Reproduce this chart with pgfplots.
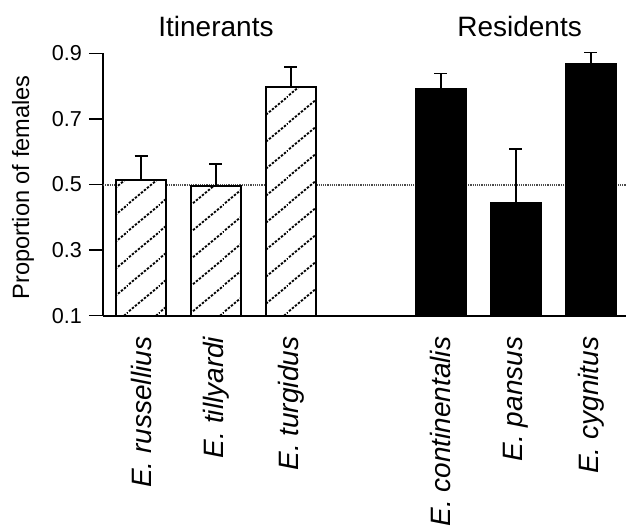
\documentclass[border=0pt]{standalone}
\usepackage{pgfplots}
\pgfplotsset{compat=1.18}
\usepackage{fontspec}
\setmainfont{Liberation Sans}
\usetikzlibrary{patterns.meta}
\tikzdeclarepattern{
  name=hatch,
  type=uncolored,
  bounding box={(0pt,0pt) and (16.1pt,13.5pt)},
  tile size={(16.1pt,13.5pt)},
  code={
    \draw[line width=0.95pt, dash pattern=on 1.2pt off 0.8pt] (-1pt,-0.84pt) -- (17.1pt,14.34pt);
  }
}
\pgfplotstableread{
x y e
0 0.514 0.072
1 0.495 0.067
2 0.798 0.061
}\itin
\pgfplotstableread{
x y e
4 0.793 0.045
5 0.443 0.166
6 0.869 0.033
}\resid
\begin{document}
\begin{tikzpicture}
\begin{axis}[
  scale only axis, width=261.5pt, height=131.2pt,
  xmin=-0.507, xmax=6.47, ymin=0.1, ymax=0.9,
  axis x line*=bottom, axis y line*=left,
  axis line style={line width=0.9pt, -},
  xtick={0,1,2,4,5,6},
  xticklabels={E. russellius, E. tillyardi, E. turgidus, E. continentalis, E. pansus, E. cygnitus},
  x tick style={draw=none},
  ytick={0.1,0.3,0.5,0.7,0.9},
  yticklabels={0.1,0.3,0.5,0.7,0.9},
  tick align=outside,
  major tick length=7pt,
  y tick style={line width=0.8pt, black},
  xticklabel style={rotate=90, anchor=east, font=\fontsize{14}{16}\selectfont\itshape},
  yticklabel style={font=\fontsize{10.8}{13}\selectfont},
  ylabel={Proportion of females},
  ylabel style={at={(axis description cs:-0.153,0.489)}, anchor=center, font=\fontsize{11.8}{14}\selectfont},
  clip=false,
]
\addplot[gray!60!black, line width=1pt, dash pattern=on 0.6pt off 0.5pt] coordinates {(-0.507,0.5) (6.47,0.5)};
\addplot[ybar, bar shift=0pt, bar width=25pt, draw=black, line width=0.8pt, fill=white,
  postaction={pattern=hatch},
  error bars/.cd, y dir=plus, y explicit,
  error bar style={line width=0.8pt, black, solid},
  error mark options={rotate=90, mark size=3.25pt, line width=0.8pt, black}]
  table[x=x, y=y, y error=e] {\itin};
\addplot[ybar, bar shift=0pt, bar width=25pt, draw=black, line width=0.8pt, fill=black,
  error bars/.cd, y dir=plus, y explicit,
  error bar style={line width=0.8pt, black},
  error mark options={rotate=90, mark size=3.25pt, line width=0.8pt, black}]
  table[x=x, y=y, y error=e] {\resid};
\node[anchor=base, font=\fontsize{14}{16}\selectfont] at (axis cs:1,0.9506) {Itinerants};
\node[anchor=base, font=\fontsize{14}{16}\selectfont] at (axis cs:5.05,0.9506) {Residents};
\end{axis}
\pgfresetboundingbox
\useasboundingbox (-51.5pt,-106.15pt) rectangle (261.5pt,157.85pt);
\end{tikzpicture}
\end{document}
